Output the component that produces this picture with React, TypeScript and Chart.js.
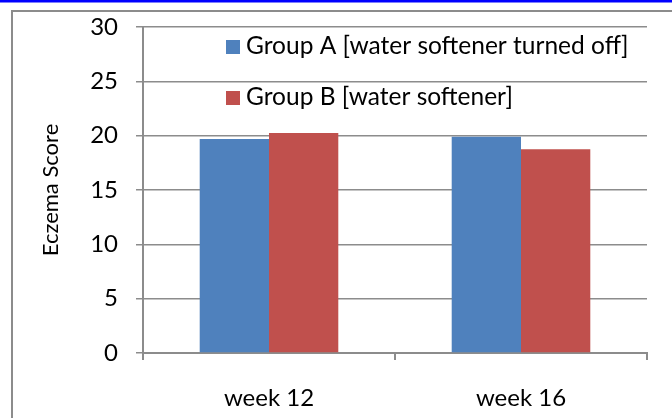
import React, { useEffect, useRef } from "react";
import { Chart, registerables } from "chart.js";

Chart.register(...registerables);

const categories = ["week 12", "week 16"];
const seriesLabels = ["Group A [water softener turned off]", "Group B [water softener]"];
const groupA = [19.7, 19.9];
const groupB = [20.25, 18.75];
const yTicks = [0, 5, 10, 15, 20, 25, 30];
const colors = ["#4F81BD", "#C0504D"];
const FONT = "Lato";

const framePlugin = {
  id: "frame",
  beforeDraw(chart: any) {
    const ctx = chart.ctx;
    ctx.save();
    ctx.fillStyle = "#0000ff";
    ctx.fillRect(0, 0, chart.width, 2.5);
    ctx.strokeStyle = "#8c8c8c";
    ctx.lineWidth = 2;
    ctx.beginPath();
    ctx.moveTo(12, chart.height + 5);
    ctx.lineTo(12, 11);
    ctx.lineTo(chart.width + 5, 11);
    ctx.stroke();
    ctx.restore();
  },
};

const legendPlugin = {
  id: "insideLegend",
  afterDraw(chart: any) {
    const ctx = chart.ctx;
    const area = chart.chartArea;
    ctx.save();
    ctx.font = `24.5px ${FONT}`;
    ctx.textBaseline = "middle";
    ctx.textAlign = "left";
    chart.data.datasets.forEach((ds: any, i: number) => {
      const cy = area.top + 20 + i * 51;
      const x = area.left + 83;
      ctx.fillStyle = ds.backgroundColor;
      ctx.fillRect(x, cy - 7, 14, 14);
      ctx.fillStyle = "#000";
      ctx.fillText(ds.label, x + 20, cy - 1);
    });
    ctx.restore();
  },
};

export default function App() {
  const ref = useRef<HTMLCanvasElement>(null);
  useEffect(() => {
    document.body.style.margin = "0";
    const chart = new Chart(ref.current!, {
      type: "bar",
      data: {
        labels: categories,
        datasets: [
          { label: seriesLabels[0], data: groupA, backgroundColor: colors[0] },
          { label: seriesLabels[1], data: groupB, backgroundColor: colors[1] },
        ],
      },
      options: {
        animation: false,
        responsive: false,
        layout: { padding: { left: 0, right: 25, top: 27, bottom: 0 } },
        datasets: { bar: { categoryPercentage: 0.55, barPercentage: 1 } },
        plugins: { legend: { display: false }, tooltip: { enabled: false } },
        scales: {
          x: {
            offset: true,
            grid: { offset: true, drawOnChartArea: false, drawTicks: true, tickLength: 7, color: "#8c8c8c", lineWidth: 2 },
            border: { display: true, color: "#8c8c8c", width: 2 },
            ticks: { color: "#000", font: { family: FONT, size: 24 }, padding: 24 },
            afterFit: (s: any) => { s.height = 65; s.paddingLeft = 0; s.paddingRight = 0; },
          },
          y: {
            min: 0,
            max: 30,
            afterBuildTicks: (s: any) => { s.ticks = yTicks.map((v) => ({ value: v })); },
            grid: { color: "#8c8c8c", lineWidth: 1.5, tickLength: 7 },
            border: { display: true, color: "#8c8c8c", width: 2 },
            ticks: { color: "#000", font: { family: FONT, size: 24 }, padding: 18 },
            title: { display: true, text: "Eczema Score", color: "#000", font: { family: FONT, size: 22 }, padding: { top: 38, bottom: 0 } },
            afterFit: (s: any) => { s.width = 143; s.paddingTop = 0; s.paddingBottom = 0; },
          },
        },
      },
      plugins: [framePlugin, legendPlugin],
    });
    return () => chart.destroy();
  }, []);
  return (
    <div style={{ width: 672, height: 418, background: "#fff" }}>
      <canvas ref={ref} width={672} height={418} />
    </div>
  );
}
